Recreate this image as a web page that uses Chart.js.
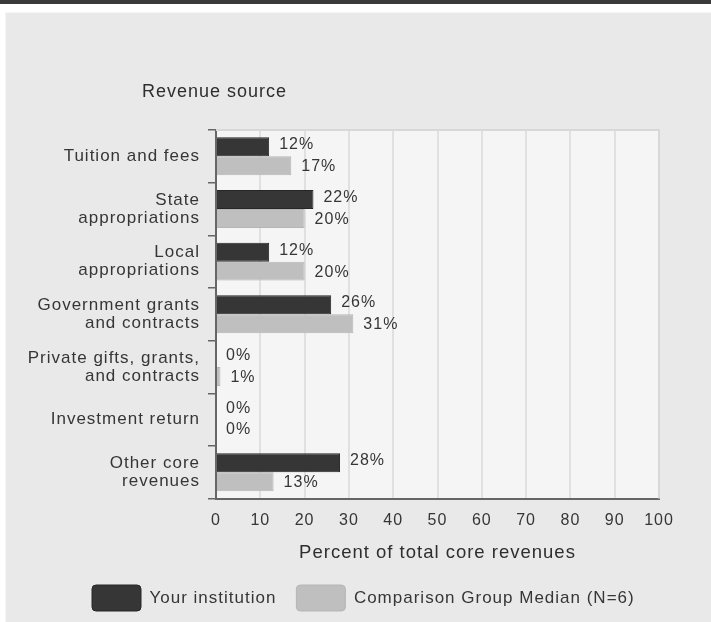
<!DOCTYPE html>
<html>
<head>
<meta charset="utf-8">
<script src="https://cdn.jsdelivr.net/npm/chart.js@4.4.1/dist/chart.umd.min.js"></script>
<style>
  body { margin: 0; background: #fff; }
  .topbar { position: absolute; left: 0; top: 0; width: 711px; height: 4px; background: #3a3a3a; }
  .panel { position: absolute; left: 5px; top: 12px; width: 720px; height: 620px; background: #e9e9e9; border: 1px solid #f6f6f6; }
  #revenueChart { position: absolute; left: 0; top: 0; }
</style>
</head>
<body>
<div class="topbar"></div>
<div class="panel"></div>
<canvas id="revenueChart" width="711" height="622"></canvas>
<script>
const categories = [
  'Tuition and fees',
  ['State', 'appropriations'],
  ['Local', 'appropriations'],
  ['Government grants', 'and contracts'],
  ['Private gifts, grants,', 'and contracts'],
  'Investment return',
  ['Other core', 'revenues']
];
const yourInstitution = [12, 22, 12, 26, 0, 0, 28];
const comparisonMedian = [17, 20, 20, 31, 1, 0, 13];
const xTicks = [0, 10, 20, 30, 40, 50, 60, 70, 80, 90, 100];

const FONT = '"Liberation Sans", Arial, sans-serif';
const TEXT = '#363636';

// canvas loses letterSpacing when it is resized, so set it again before layout and draw
const spacing = {
  id: 'spacing',
  beforeLayout(chart) { chart.ctx.letterSpacing = '1px'; },
  beforeDraw(chart) { chart.ctx.letterSpacing = '1px'; }
};

// legend sits a bit right of the canvas centre in the original
const legendShift = {
  id: 'legendShift',
  afterLayout(chart) { chart.legend.left = 72; }
};

const plotBackground = {
  id: 'plotBackground',
  beforeDraw(chart) {
    const { ctx, chartArea: a } = chart;
    ctx.save();
    ctx.fillStyle = '#f5f5f5';
    ctx.fillRect(a.left, a.top, a.right - a.left, a.bottom - a.top);
    ctx.restore();
  },
  beforeDatasetsDraw(chart) {
    const { ctx, chartArea: a } = chart;
    ctx.save();
    ctx.strokeStyle = '#d8d8d8';
    ctx.lineWidth = 2;
    ctx.beginPath();
    ctx.moveTo(a.left, a.top);
    ctx.lineTo(a.right, a.top);
    ctx.lineTo(a.right, a.bottom);
    ctx.stroke();
    ctx.restore();
  }
};

const axisHeading = {
  id: 'axisHeading',
  afterDraw(chart) {
    const ctx = chart.ctx;
    ctx.save();
    ctx.letterSpacing = '1px';
    ctx.font = '18px ' + FONT;
    ctx.fillStyle = '#2e2e2e';
    ctx.textAlign = 'left';
    ctx.textBaseline = 'middle';
    ctx.fillText('Revenue source', 142, 92);
    ctx.restore();
  }
};

const valueLabels = {
  id: 'valueLabels',
  afterDatasetsDraw(chart) {
    const ctx = chart.ctx;
    ctx.save();
    ctx.letterSpacing = '1px';
    ctx.font = '16px ' + FONT;
    ctx.fillStyle = TEXT;
    ctx.textAlign = 'left';
    ctx.textBaseline = 'middle';
    chart.data.datasets.forEach((ds, i) => {
      chart.getDatasetMeta(i).data.forEach((bar, j) => {
        ctx.fillText(ds.data[j] + '%', bar.x + 10, bar.y + (i === 0 ? -2 : 1));
      });
    });
    ctx.restore();
  }
};

new Chart(document.getElementById('revenueChart'), {
  type: 'bar',
  data: {
    labels: categories,
    datasets: [
      {
        label: 'Your institution',
        data: yourInstitution,
        backgroundColor: '#363636',
        borderColor: '#262626',
        borderWidth: 1,
        categoryPercentage: 0.72,
        barPercentage: 1
      },
      {
        label: 'Comparison Group Median (N=6)',
        data: comparisonMedian,
        backgroundColor: '#bfbfbf',
        borderColor: '#b5b5b5',
        borderWidth: 1,
        categoryPercentage: 0.72,
        barPercentage: 1
      }
    ]
  },
  options: {
    indexAxis: 'y',
    responsive: false,
    animation: false,
    layout: { padding: { left: 0, right: 52, top: 130, bottom: 1 } },
    scales: {
      x: {
        min: 0,
        max: 100,
        afterBuildTicks: (scale) => { scale.ticks = xTicks.map(v => ({ value: v })); },
        ticks: { font: { family: FONT, size: 16 }, color: TEXT, padding: 12 },
        grid: { color: '#e0e0e0', lineWidth: 2, drawTicks: false },
        border: { color: '#666', width: 2 },
        title: {
          display: true,
          text: 'Percent of total core revenues',
          font: { family: FONT, size: 18.5 },
          color: '#2e2e2e',
          padding: { top: 0, bottom: 1 }
        }
      },
      y: {
        afterFit: (scale) => { scale.width = 216; },
        ticks: { font: { family: FONT, size: 17, lineHeight: 1.05 }, color: TEXT, padding: 8 },
        grid: { drawOnChartArea: false, color: '#666', lineWidth: 1.5, tickLength: 8 },
        border: { color: '#666', width: 2 }
      }
    },
    plugins: {
      legend: {
        position: 'bottom',
        align: 'start',
        labels: {
          boxWidth: 49,
          boxHeight: 26,
          padding: 20,
          useBorderRadius: true,
          borderRadius: 4,
          font: { family: FONT, size: 17 },
          color: TEXT
        }
      },
      tooltip: { enabled: false }
    }
  },
  plugins: [spacing, legendShift, plotBackground, axisHeading, valueLabels]
});
</script>
</body>
</html>
